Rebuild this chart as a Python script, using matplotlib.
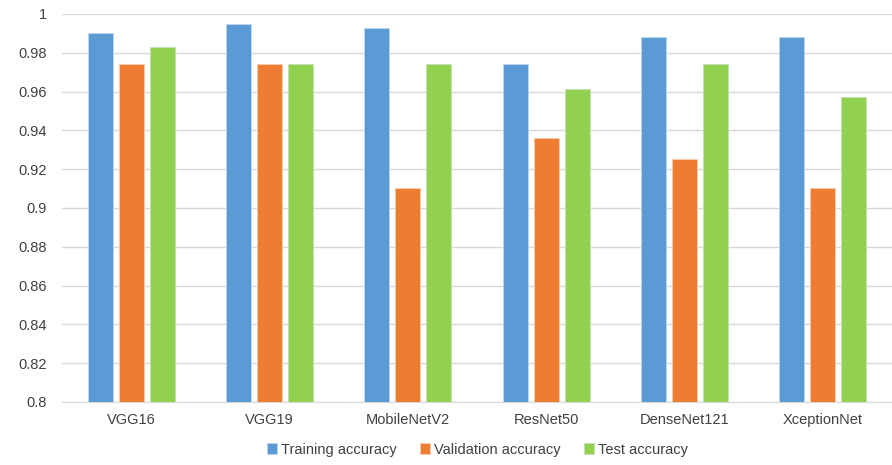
import matplotlib.pyplot as plt
import numpy as np

plt.rcParams['font.family'] = ['Liberation Sans', 'DejaVu Sans']

models = ['VGG16', 'VGG19', 'MobileNetV2', 'ResNet50', 'DenseNet121', 'XceptionNet']

train_acc = [0.990, 0.995, 0.993, 0.974, 0.988, 0.988]
val_acc = [0.974, 0.974, 0.9105, 0.936, 0.925, 0.9105]
test_acc = [0.9828, 0.974, 0.974, 0.9615, 0.974, 0.957]

x = np.arange(len(models))
w = 0.18
off = 0.224

fig = plt.figure(figsize=(8.92, 4.65), dpi=100)
ax = fig.add_axes([0.0695, 0.1355, 0.9305, 0.8345])

ax.bar(x - off, train_acc, w, color='#5B9BD5', edgecolor='#BDD7EE', linewidth=0.6,
       label='Training accuracy', zorder=3)
ax.bar(x, val_acc, w, color='#ED7D31', edgecolor='#F8CBAD', linewidth=0.6,
       label='Validation accuracy', zorder=3)
ax.bar(x + off, test_acc, w, color='#92D050', edgecolor='#C5E0B4', linewidth=0.6,
       label='Test accuracy', zorder=3)

ax.set_ylim(0.8, 1.0)
ax.set_xlim(-0.5, len(models) - 0.5)
ticks = np.arange(0.8, 1.001, 0.02)
ax.set_yticks(ticks)
ax.set_yticklabels(['%g' % round(t, 2) for t in ticks])
ax.set_xticks(x)
ax.set_xticklabels(models)

ax.grid(axis='y', color='#D9D9D9', linewidth=1, zorder=0)
for s in ['top', 'right', 'left']:
    ax.spines[s].set_visible(False)
ax.spines['bottom'].set_color('#D9D9D9')
ax.tick_params(length=0, labelsize=10.5, labelcolor='#404040')
ax.tick_params(axis='x', pad=8)
ax.tick_params(axis='y', pad=11)

fig.legend(loc='center', bbox_to_anchor=(0.535, 0.033), ncol=3, frameon=False,
           fontsize=10.5, handlelength=0.7, handleheight=0.7, handletextpad=0.25,
           columnspacing=1.6, labelcolor='#404040')

plt.savefig('out.png', dpi=100)
